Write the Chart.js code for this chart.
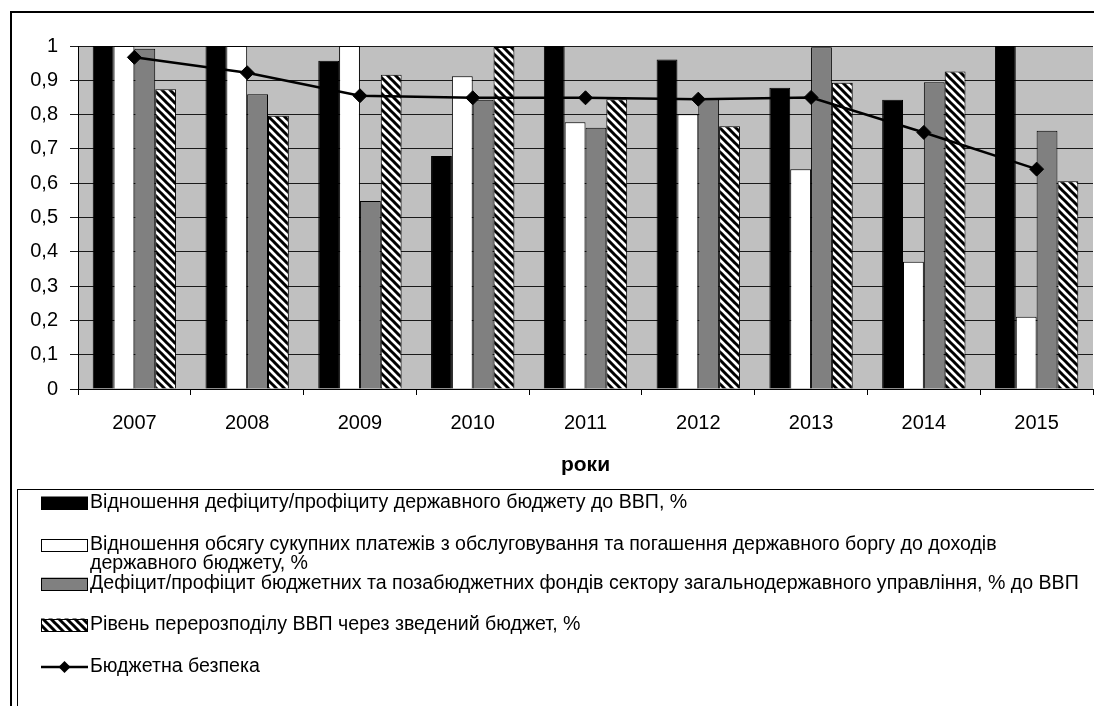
<!DOCTYPE html>
<html>
<head>
<meta charset="utf-8">
<script src="https://cdn.jsdelivr.net/npm/chart.js@4.4.1/dist/chart.umd.min.js"></script>
<style>
  html, body { margin: 0; padding: 0; background: #fff; }
  #wrap { position: relative; width: 1094px; height: 706px; overflow: hidden; }
  #frame { position: absolute; left: 10px; top: 11px; width: 1200px; height: 800px;
           border-left: 2px solid #000; border-top: 2px solid #000; }
  #c { position: absolute; left: 0; top: 0; }
</style>
</head>
<body>
<div id="wrap">
  <div id="frame"></div>
  <canvas id="c" width="1094" height="706"></canvas>
</div>
<script>
// Years on the category axis
const years = ['2007', '2008', '2009', '2010', '2011', '2012', '2013', '2014', '2015'];

// Normalised indicator values per year
const deficitToGdp        = [1, 1, 0.957, 0.679, 1, 0.961, 0.878, 0.843, 1];
const debtServiceToIncome = [1, 1, 1, 0.912, 0.778, 0.801, 0.641, 0.371, 0.211];
const sectorDeficit       = [0.992, 0.859, 0.548, 0.843, 0.762, 0.845, 0.996, 0.894, 0.753];
const gdpRedistribution   = [0.874, 0.797, 0.916, 0.997, 0.845, 0.766, 0.893, 0.926, 0.606];
const budgetSecurity      = [0.967, 0.922, 0.855, 0.849, 0.849, 0.845, 0.850, 0.748, 0.641];

// Value-axis tick labels (decimal comma)
const yTickLabels = ['0', '0,1', '0,2', '0,3', '0,4', '0,5', '0,6', '0,7', '0,8', '0,9', '1'];

// Series names
const seriesNames = [
  'Відношення дефіциту/профіциту державного бюджету до ВВП, %',
  'Відношення обсягу сукупних платежів з обслуговування та погашення державного боргу до доходів державного бюджету, %',
  'Дефіцит/профіцит бюджетних та позабюджетних фондів сектору загальнодержавного управління, % до ВВП',
  'Рівень перерозподілу ВВП через зведений бюджет, %',
  'Бюджетна безпека'
];
const axisTitle = 'роки';

const FONT = '"Liberation Sans", Arial, sans-serif';

// Diagonal hatch fill (white with black "\" stripes)
function makeHatch() {
  const s = 8;
  const c = document.createElement('canvas');
  c.width = s; c.height = s;
  const x = c.getContext('2d');
  x.fillStyle = '#fff';
  x.fillRect(0, 0, s, s);
  x.strokeStyle = '#000';
  x.lineWidth = 3;
  x.beginPath();
  for (let k = -1; k <= 1; k++) {
    x.moveTo(k * s - 1, -1);
    x.lineTo(k * s + s + 1, s + 1);
  }
  x.stroke();
  return x.createPattern(c, 'repeat');
}
const hatch = makeHatch();

// Grey plot-area background
const plotBackground = {
  id: 'plotBackground',
  beforeDraw(chart) {
    const { ctx, chartArea: a } = chart;
    ctx.save();
    ctx.fillStyle = '#c0c0c0';
    ctx.fillRect(a.left, a.top, a.right - a.left, a.bottom - a.top);
    ctx.restore();
  }
};

// Boxed legend listed below the chart
const boxLegend = {
  id: 'boxLegend',
  afterDraw(chart) {
    const ctx = chart.ctx;
    ctx.save();
    ctx.strokeStyle = '#000';
    ctx.lineWidth = 1;
    ctx.strokeRect(17.5, 489.5, 1200, 400);

    const rowY = [503, 545, 584, 625, 667];
    const swX = 41, swW = 47, swH = 13;
    const textX = 90, maxW = 1002, lineGap = 19;
    ctx.font = '19.6px ' + FONT;
    ctx.textBaseline = 'middle';
    ctx.fillStyle = '#000';

    chart.data.datasets.forEach((ds, i) => {
      const y = rowY[i];
      if (ds.type === 'line') {
        ctx.strokeStyle = '#000';
        ctx.lineWidth = 2.5;
        ctx.beginPath();
        ctx.moveTo(swX, y); ctx.lineTo(swX + swW, y);
        ctx.stroke();
        const cx = swX + swW / 2, r = 6;
        ctx.fillStyle = '#000';
        ctx.beginPath();
        ctx.moveTo(cx - r, y); ctx.lineTo(cx, y - r); ctx.lineTo(cx + r, y); ctx.lineTo(cx, y + r);
        ctx.closePath();
        ctx.fill();
      } else {
        ctx.fillStyle = ds.backgroundColor;
        ctx.fillRect(swX, y - swH / 2, swW, swH);
        ctx.strokeStyle = '#000';
        ctx.lineWidth = 1;
        ctx.strokeRect(swX + 0.5, Math.round(y - swH / 2) + 0.5, swW - 1, swH - 1);
      }
      // wrap long labels
      ctx.fillStyle = '#000';
      const words = ds.label.split(' ');
      const lines = [];
      let cur = '';
      words.forEach(w => {
        const t = cur ? cur + ' ' + w : w;
        if (ctx.measureText(t).width > maxW && cur) { lines.push(cur); cur = w; }
        else cur = t;
      });
      if (cur) lines.push(cur);
      lines.forEach((ln, k) => ctx.fillText(ln, textX, y + k * lineGap));
    });
    ctx.restore();
  }
};

new Chart(document.getElementById('c'), {
  data: {
    labels: years,
    datasets: [
      { type: 'bar', label: seriesNames[0], data: deficitToGdp,
        backgroundColor: '#000000', borderColor: '#000', borderWidth: 1, order: 1 },
      { type: 'bar', label: seriesNames[1], data: debtServiceToIncome,
        backgroundColor: '#ffffff', borderColor: '#000', borderWidth: 1, order: 1 },
      { type: 'bar', label: seriesNames[2], data: sectorDeficit,
        backgroundColor: '#808080', borderColor: '#000', borderWidth: 1, order: 1 },
      { type: 'bar', label: seriesNames[3], data: gdpRedistribution,
        backgroundColor: hatch, borderColor: '#000', borderWidth: 1, order: 1 },
      { type: 'line', label: seriesNames[4], data: budgetSecurity,
        borderColor: '#000', borderWidth: 2.5, tension: 0,
        pointStyle: 'rectRot', pointRadius: 7, pointHoverRadius: 7,
        pointBackgroundColor: '#000', pointBorderColor: '#000', pointBorderWidth: 1,
        order: 0 }
    ]
  },
  options: {
    responsive: false,
    animation: false,
    events: [],
    datasets: { bar: { categoryPercentage: 0.739, barPercentage: 1 } },
    layout: { autoPadding: false, padding: { left: 0, right: 1, top: 46, bottom: 227.8 } },
    plugins: { legend: { display: false }, tooltip: { enabled: false } },
    scales: {
      x: {
        offset: true,
        grid: { offset: true, drawOnChartArea: false, drawTicks: true, tickLength: 6,
                color: '#000', lineWidth: 1 },
        border: { display: true, color: '#000', width: 1 },
        ticks: { color: '#000', font: { family: FONT, size: 20 }, padding: 16.3, maxRotation: 0 },
        title: { display: true, text: axisTitle, color: '#000',
                 font: { family: FONT, size: 21, weight: 'bold' }, padding: { top: 0, bottom: 0 } },
        afterFit(scale) { scale.height = 89.2; scale.paddingLeft = 0; scale.paddingRight = 0; }
      },
      y: {
        min: 0, max: 1,
        grid: { color: '#1a1a1a', lineWidth: 1, drawTicks: true, tickLength: 8 },
        border: { display: true, color: '#000', width: 1 },
        ticks: { stepSize: 0.1, color: '#000', font: { family: FONT, size: 20 }, padding: 12,
                 callback: (v, i) => yTickLabels[i] },
        afterFit(scale) { scale.width = 78; }
      }
    }
  },
  plugins: [plotBackground, boxLegend]
});
</script>
</body>
</html>
